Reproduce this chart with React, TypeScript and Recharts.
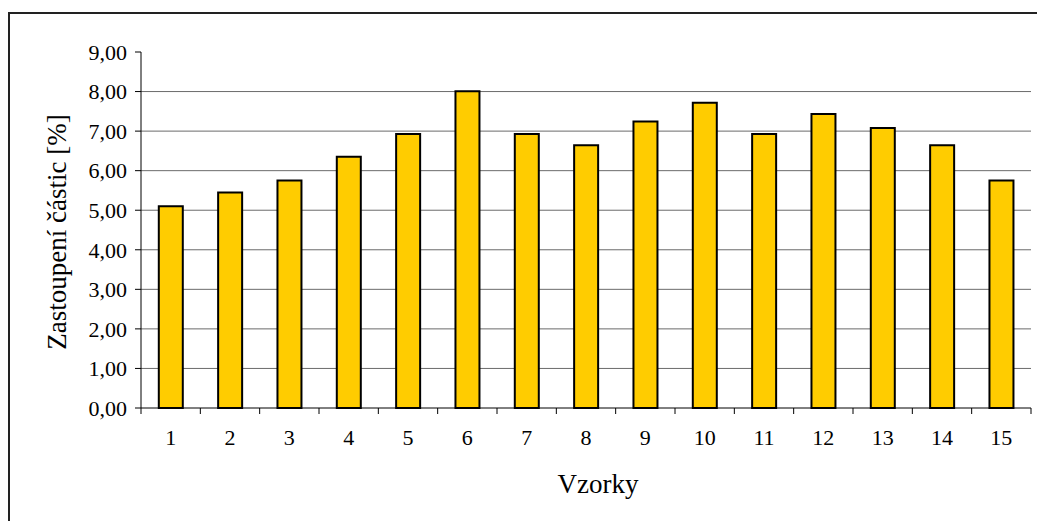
import React from "react";
import { BarChart, Bar, XAxis, YAxis, CartesianGrid, Label } from "recharts";

const vzorky = ["1", "2", "3", "4", "5", "6", "7", "8", "9", "10", "11", "12", "13", "14", "15"];
const zastoupeni = [5.1, 5.45, 5.75, 6.35, 6.93, 8.01, 6.93, 6.64, 7.24, 7.72, 6.93, 7.43, 7.08, 6.64, 5.75];
const yTicks = [0, 1, 2, 3, 4, 5, 6, 7, 8, 9];
const gridValues = [1, 2, 3, 4, 5, 6, 7, 8];

const data = vzorky.map((name, i) => ({ name, value: zastoupeni[i] }));

const FONT = '"Liberation Serif", "Times New Roman", serif';
const fmt = (v: number) => v.toFixed(2).replace(".", ",");

// category ticks sit between bars, labels under bar centres
const XTick = (props: any) => {
  const { x, y, payload, index, width, visibleTicksCount } = props;
  const band = width / visibleTicksCount;
  const last = index === visibleTicksCount - 1;
  return (
    <g>
      <line x1={x - band / 2} x2={x - band / 2} y1={y} y2={y + 6} stroke="#000" />
      {last && <line x1={x + band / 2} x2={x + band / 2} y1={y} y2={y + 6} stroke="#000" />}
      <text x={x} y={y + 37} textAnchor="middle" fontSize={22} fontFamily={FONT} fill="#000">
        {payload.value}
      </text>
    </g>
  );
};

export default function App() {
  return (
    <div style={{ position: "absolute", left: 0, top: 0, width: 1037, height: 521, overflow: "hidden", background: "#fff" }}>
      <div
        style={{
          position: "absolute",
          left: 8,
          top: 12,
          width: 1100,
          height: 600,
          border: "2px solid #222",
        }}
      />
      <div style={{ position: "absolute", left: 0, top: 0 }}>
        <BarChart
          width={1037}
          height={521}
          data={data}
          margin={{ top: 52, right: 6, left: 0, bottom: 0 }}
          barCategoryGap="30%"
        >
          <CartesianGrid horizontal vertical={false} horizontalValues={gridValues} stroke="#6b6b6b" />
          <XAxis
            dataKey="name"
            height={113}
            interval={0}
            tickSize={0}
            tickMargin={0}
            tickLine={false}
            axisLine={{ stroke: "#000" }}
            tick={<XTick />}
          >
            <Label
              content={(p: any) => {
                const vb = p.viewBox;
                return (
                  <text x={vb.x + vb.width / 2 + 12} y={vb.y + 85} textAnchor="middle" fontSize={27} fontFamily={FONT} fill="#000">
                    Vzorky
                  </text>
                );
              }}
            />
          </XAxis>
          <YAxis
            width={141}
            domain={[0, 9]}
            ticks={yTicks}
            interval={0}
            tickFormatter={fmt}
            tickSize={6}
            tickMargin={8}
            axisLine={{ stroke: "#000" }}
            tickLine={{ stroke: "#000" }}
            tick={{ fontSize: 22, fontFamily: FONT, fill: "#000" }}
          >
            <Label
              content={(p: any) => {
                const vb = p.viewBox;
                const cx = 66;
                const cy = vb.y + vb.height / 2 + 2;
                return (
                  <text
                    x={cx}
                    y={cy}
                    transform={`rotate(-90 ${cx} ${cy})`}
                    textAnchor="middle"
                    fontSize={27}
                    fontFamily={FONT}
                    fill="#000"
                  >
                    Zastoupení částic [%]
                  </text>
                );
              }}
            />
          </YAxis>
          <Bar dataKey="value" fill="#FFCC00" stroke="#000" strokeWidth={2} isAnimationActive={false} />
        </BarChart>
      </div>
    </div>
  );
}
